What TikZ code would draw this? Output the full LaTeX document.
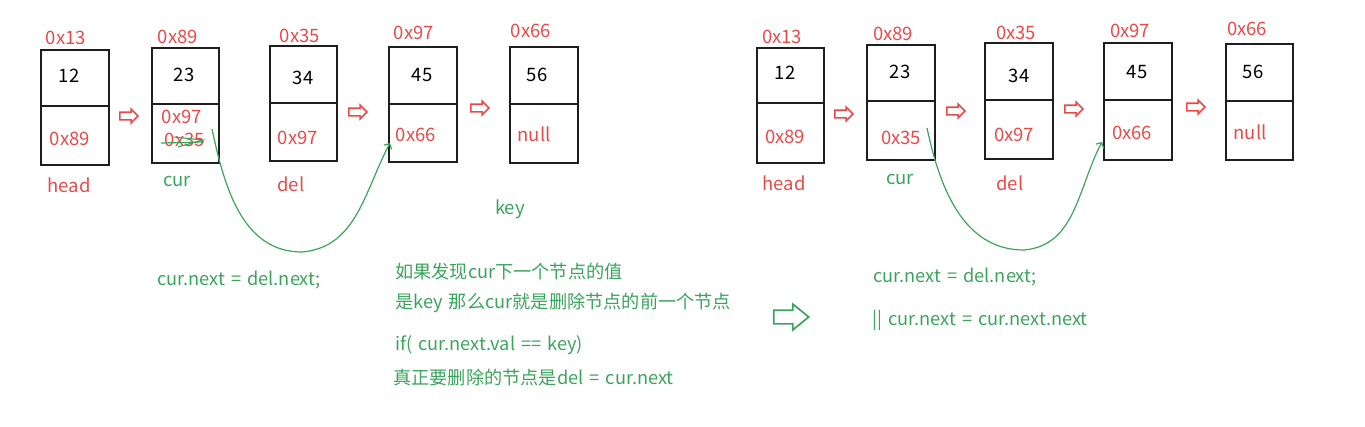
\documentclass[tikz,border=0pt]{standalone}
\usepackage{fontspec}
\setmainfont{Noto Sans CJK SC}[WordSpace=1.5]
\usetikzlibrary{shapes.arrows,arrows.meta}
\definecolor{rd}{RGB}{232,74,74}
\definecolor{gn}{RGB}{58,164,92}
\definecolor{bx}{RGB}{30,30,30}
\newcommand\llnode[6]{%
  \node[cell, minimum width={(#3-#2)*1pt}, minimum height={(#5-#4)*1pt}] (#1t) at (#2,#4) {};
  \node[cell, minimum width={(#3-#2)*1pt}, minimum height={(#6-#5)*1pt}] (#1b) at (#2,#5) {};}
\begin{document}
\begin{tikzpicture}[x=1pt,y=-1pt,
  cell/.style={draw=bx, line width=1.9pt, inner sep=0pt, anchor=north west},
  txt/.style={inner sep=0pt, font=\fontsize{18.5}{21}\selectfont},
  rtxt/.style={txt, text=rd},
  gtxt/.style={txt, text=gn},
  ktxt/.style={txt, text=black},
  wtxt/.style={gtxt, anchor=west, font=\fontsize{18.2}{21}\selectfont},
  rarrow/.style={single arrow, draw=rd, line width=1.6pt, inner xsep=0pt, inner ysep=3pt,
    single arrow head extend=3pt, minimum height=18pt, minimum width=0pt, anchor=center},
  garrow/.style={single arrow, draw=gn, line width=1.7pt, inner xsep=0pt, inner ysep=6pt,
    single arrow head extend=6pt, single arrow tip angle=78, minimum height=35pt,
    minimum width=0pt, anchor=center},
  link/.style={draw=gn, line width=1.2pt, -{Straight Barb[length=4pt,width=9pt]}},
]
\useasboundingbox (0,0) rectangle (1365,426);
% ---------- left list ----------
\llnode{L1}{40}{108}{49}{105}{164}
\llnode{L2}{151}{218}{47}{103}{162}
\llnode{L3}{269}{336}{45}{102}{160}
\llnode{L4}{388}{456}{46}{103}{161}
\llnode{L5}{509}{577}{46}{103}{162}
\node[rtxt] (La1) at (66,38) {0x13};
\node[rtxt] (La2) at (178,37) {0x89};
\node[rtxt] (La3) at (300,36) {0x35};
\node[rtxt] (La4) at (414,33) {0x97};
\node[rtxt] (La5) at (531,31) {0x66};
\node[ktxt] (Lv1) at (69,76) {12};
\node[ktxt] (Lv2) at (184,75) {23};
\node[ktxt] (Lv3) at (303,78) {34};
\node[ktxt] (Lv4) at (422,75) {45};
\node[ktxt] (Lv5) at (537,75) {56};
\node[rtxt] (Ln1) at (70,139) {0x89};
\node[rtxt] (Ln2a) at (182,117) {0x97};
\node[rtxt] (Ln2b) at (185,140) {0x35};
\node[rtxt] (Ln3) at (298,138) {0x97};
\node[rtxt] (Ln4) at (416,135) {0x66};
\node[rtxt] (Ln5) at (534,134) {null};
\node[rtxt] (Lhead) at (69,185) {head};
\node[gtxt] (Lcur) at (177,181) {cur};
\node[rtxt] (Ldel) at (291,184) {del};
\node[gtxt] (Lkey) at (510,209) {key};
\node[rarrow] (Lr1) at (127,116) {};
\node[rarrow] (Lr3) at (356,112) {};
\node[rarrow] (Lr4) at (478,108) {};
% strike-through on old pointer
\draw[gn, line width=1.2pt] (161,143) -- (204,142);
\draw[gn, line width=1.1pt] (174,137) -- (203,140) -- (178,147);
% new link
\coordinate (Lcs) at (212,129);
\coordinate (Lcb) at (302,252);
\coordinate (Lce) at (390,143);
\draw[link] (Lcs) to[out=-78,in=180] (Lcb) to[out=5,in=-118] (Lce);
% texts
\node[wtxt] (Lc1) at (157,280) {cur.next = del.next;};
\node[wtxt] (M1) at (395,272) {如果发现cur下一个节点的值};
\node[wtxt] (M2) at (395,303) {是key 那么cur就是删除节点的前一个节点};
\node[wtxt] (M3) at (395,345) {if( cur.next.val == key)};
\node[wtxt] (M4) at (393,378) {真正要删除的节点是del = cur.next};
\node[garrow] (Mg) at (787,317) {};
% ---------- right list ----------
\llnode{R1}{756}{823}{47}{102}{162}
\llnode{R2}{866}{934}{44}{100}{159}
\llnode{R3}{984}{1052}{42}{99}{158}
\llnode{R4}{1103}{1171}{42}{99}{159}
\llnode{R5}{1225}{1292}{43}{100}{159}
\node[rtxt] (Ra1) at (782,37) {0x13};
\node[rtxt] (Ra2) at (893,34) {0x89};
\node[rtxt] (Ra3) at (1016,33) {0x35};
\node[rtxt] (Ra4) at (1130,31) {0x97};
\node[rtxt] (Ra5) at (1247,29) {0x66};
\node[ktxt] (Rv1) at (785,73) {12};
\node[ktxt] (Rv2) at (900,72) {23};
\node[ktxt] (Rv3) at (1019,76) {34};
\node[ktxt] (Rv4) at (1137,72) {45};
\node[ktxt] (Rv5) at (1253,72) {56};
\node[rtxt] (Rn1) at (785,137) {0x89};
\node[rtxt] (Rn2) at (901,138) {0x35};
\node[rtxt] (Rn3) at (1014,135) {0x97};
\node[rtxt] (Rn4) at (1132,133) {0x66};
\node[rtxt] (Rn5) at (1250,132) {null};
\node[rtxt] (Rhead) at (784,183) {head};
\node[gtxt] (Rcur) at (900,179) {cur};
\node[rtxt] (Rdel) at (1010,183) {del};
\node[rarrow] (Rr1) at (842,114) {};
\node[rarrow] (Rr2) at (954,111) {};
\node[rarrow] (Rr3) at (1072,109) {};
\node[rarrow] (Rr4) at (1194,107) {};
\coordinate (Rcs) at (927,128);
\coordinate (Rcb) at (1024,250);
\coordinate (Rce) at (1102,142);
\draw[link] (Rcs) to[out=-78,in=180] (Rcb) to[out=5,in=-118] (Rce);
\node[wtxt] (Rc1) at (873,277) {cur.next = del.next;};
\node[wtxt] (Rc2) at (872,320) {|| cur.next = cur.next.next};
\end{tikzpicture}
\end{document}
